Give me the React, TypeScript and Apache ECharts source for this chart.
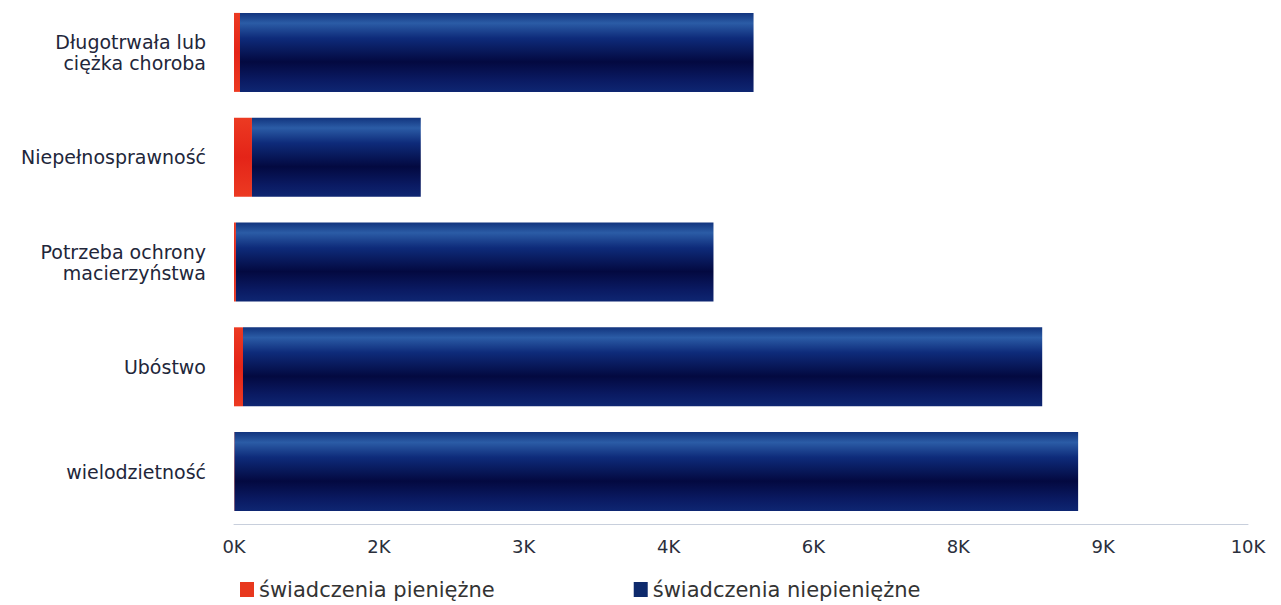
import React, { useEffect, useRef } from "react";
import * as echarts from "echarts";

const categories = [
  "Długotrwała lub\nciężka choroba",
  "Niepełnosprawność",
  "Potrzeba ochrony\nmacierzyństwa",
  "Ubóstwo",
  "wielodzietność",
];
const pieniezne = [62, 186, 20, 93, 5];
const niepieniezne = [5318, 1748, 4945, 8276, 8736];
const tickLabels = ["0K", "2K", "3K", "4K", "6K", "8K", "9K", "10K"];
const seriesNames = ["świadczenia pieniężne", "świadczenia niepieniężne"];

export default function App() {
  const ref = useRef<HTMLDivElement>(null);
  useEffect(() => {
    if (!ref.current) return;
    const chart = echarts.init(ref.current, null, { renderer: "svg" });
    const navyGrad = new echarts.graphic.LinearGradient(0, 0, 0, 1, [
      { offset: 0, color: "#12347e" },
      { offset: 0.13, color: "#2b5ca6" },
      { offset: 0.32, color: "#0e2b7a" },
      { offset: 0.62, color: "#030940" },
      { offset: 0.85, color: "#0a1a62" },
      { offset: 1, color: "#0e2672" },
    ]);
    const redGrad = new echarts.graphic.LinearGradient(0, 0, 0, 1, [
      { offset: 0, color: "#ec3a22" },
      { offset: 0.5, color: "#e42418" },
      { offset: 1, color: "#ec3a22" },
    ]);
    chart.setOption({
      animation: false,
      textStyle: { fontFamily: "DejaVu Sans" },
      grid: { left: 234, right: 33, top: -1, bottom: 81, containLabel: false },
      legend: {
        left: 240,
        top: 579,
        padding: 0,
        itemWidth: 14,
        itemHeight: 15,
        itemGap: 139,
        icon: "rect",
        textStyle: { fontSize: 21, color: "#333333", fontFamily: "DejaVu Sans" },
        data: [
          { name: seriesNames[0], itemStyle: { color: "#e8381e" } },
          { name: seriesNames[1], itemStyle: { color: "#0e2a6c" } },
        ],
      },
      xAxis: {
        type: "value",
        min: 0,
        max: 10500,
        interval: 1500,
        splitLine: { show: false },
        axisLine: { show: true, lineStyle: { color: "#c8cfdc", width: 1 } },
        axisTick: { show: false },
        axisLabel: {
          margin: 13,
          fontSize: 18,
          color: "#2b2f3c",
          formatter: (_v: number, i: number) => tickLabels[i] ?? "",
        },
      },
      yAxis: {
        type: "category",
        inverse: true,
        data: categories,
        axisLine: { show: false },
        axisTick: { show: false },
        axisLabel: {
          margin: 28,
          fontSize: 19,
          lineHeight: 21,
          color: "#22263a",
          align: "right",
        },
      },
      series: [
        {
          name: seriesNames[0],
          type: "bar",
          stack: "total",
          barWidth: 79,
          data: pieniezne,
          itemStyle: { color: redGrad },
        },
        {
          name: seriesNames[1],
          type: "bar",
          stack: "total",
          barWidth: 79,
          data: niepieniezne,
          itemStyle: { color: navyGrad },
        },
      ],
    });
    return () => chart.dispose();
  }, []);
  return (
    <div
      ref={ref}
      style={{ position: "absolute", left: 0, top: 0, width: 1281, height: 605 }}
    />
  );
}
